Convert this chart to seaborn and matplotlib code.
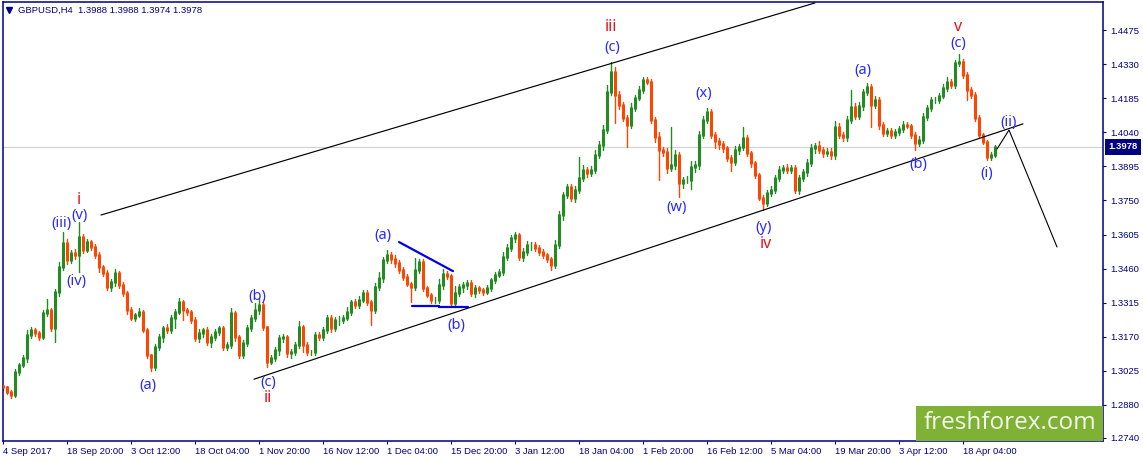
import numpy as np
import pandas as pd
import matplotlib
matplotlib.use("Agg")
import matplotlib.pyplot as plt
import seaborn as sns
from matplotlib.patches import Rectangle

# H4 closes, one row per date tick
closes = [
    1.2955,1.2934,1.2921,1.3019,1.3049,1.3079,1.3177,1.3198,1.3185,1.3168,1.3271,1.3283,1.3207,1.3360,1.3467,1.3569,
    1.3496,1.3526,1.3518,1.3594,1.3539,1.3573,1.3552,1.3518,1.3467,1.3441,1.3381,1.3403,1.3441,1.3390,1.3356,1.3283,
    1.3249,1.3262,1.3275,1.3198,1.3092,1.3041,1.3126,1.3168,1.3207,1.3198,1.3249,1.3275,1.3317,1.3283,1.3275,1.3241,
    1.3164,1.3185,1.3198,1.3147,1.3168,1.3190,1.3207,1.3126,1.3134,1.3271,1.3168,1.3092,1.3143,1.3207,1.3249,1.3283,
    1.3305,1.3211,1.3062,1.3079,1.3113,1.3164,1.3168,1.3100,1.3104,1.3134,1.3211,1.3134,1.3104,1.3104,1.3177,1.3168,
    1.3198,1.3249,1.3207,1.3241,1.3241,1.3249,1.3275,1.3317,1.3305,1.3326,1.3356,1.3317,1.3283,1.3381,1.3420,1.3496,
    1.3518,1.3501,1.3484,1.3454,1.3424,1.3394,1.3381,1.3454,1.3488,1.3377,1.3347,1.3326,1.3326,1.3390,1.3437,1.3428,
    1.3313,1.3356,1.3381,1.3390,1.3398,1.3356,1.3377,1.3369,1.3360,1.3377,1.3411,1.3433,1.3445,1.3509,1.3548,1.3590,
    1.3603,1.3509,1.3530,1.3560,1.3560,1.3548,1.3530,1.3518,1.3501,1.3475,1.3560,1.3688,1.3773,1.3807,1.3761,1.3795,
    1.3846,1.3880,1.3867,1.3880,1.3944,1.3986,1.4050,1.4212,1.4297,1.4199,1.4157,1.4101,1.4071,1.4144,1.4187,1.4221,
    1.4263,1.4255,1.4093,1.4020,1.3965,1.3956,1.3888,1.3901,1.3944,1.3824,1.3837,1.3837,1.3893,1.3901,1.4029,1.4093,
    1.4127,1.4029,1.4003,1.3991,1.3974,1.3931,1.3914,1.3965,1.3978,1.4016,1.3952,1.3910,1.3859,1.3761,1.3739,1.3782,
    1.3795,1.3846,1.3880,1.3888,1.3880,1.3888,1.3795,1.3846,1.3871,1.3910,1.3974,1.3982,1.3965,1.3952,1.3956,1.3944,
    1.4063,1.4029,1.4020,1.4093,1.4148,1.4110,1.4152,1.4212,1.4233,1.4157,1.4178,1.4071,1.4037,1.4046,1.4029,1.4042,
    1.4054,1.4071,1.4067,1.4029,1.3995,1.4008,1.4106,1.4144,1.4178,1.4178,1.4195,1.4229,1.4255,1.4242,1.4336,1.4340,
    1.4284,1.4221,1.4199,1.4101,1.4029,1.3999,1.3935,1.3944,1.3978,
]
first_open = 1.2958

# wick lengths above and below each body, in pips
upper_wick = [
    8,6,10,12,10,14,20,12,10,8,14,47,10,14,20,45,
    18,14,16,64,12,14,10,12,14,10,14,14,16,10,12,10,
    14,10,16,8,10,6,12,14,10,18,14,12,18,10,10,10,
    12,16,10,14,12,14,10,8,12,20,10,10,14,14,12,30,
    30,12,6,14,12,14,14,8,12,12,24,10,14,10,12,12,
    14,14,14,12,18,12,20,10,14,16,12,14,10,18,24,14,
    22,12,16,12,14,12,10,50,14,12,10,10,12,24,20,14,
    10,30,14,12,14,12,14,10,10,14,10,14,12,20,16,14,
    12,10,18,16,14,12,14,12,10,8,20,16,14,12,14,16,
    90,22,14,18,20,16,20,30,43,20,16,14,12,20,14,18,
    14,12,14,12,20,14,18,160,20,12,14,16,24,18,16,18,
    18,12,14,14,12,10,14,16,14,47,14,10,8,8,14,14,
    16,14,18,14,16,12,14,12,14,18,16,14,20,14,16,16,
    26,18,12,16,72,18,16,14,18,14,18,12,12,14,12,14,
    14,16,12,10,12,16,16,14,14,12,14,16,20,14,14,34,
    14,12,14,12,14,10,8,12,10,
]
lower_wick = [
    12,10,14,8,10,8,16,14,10,10,8,14,12,60,18,14,
    16,14,16,72,14,10,12,12,20,14,14,16,18,12,14,18,
    10,14,10,10,12,16,14,12,20,12,14,40,10,40,14,12,
    12,16,18,14,20,12,14,14,12,14,16,14,12,12,14,14,
    18,14,22,10,14,22,16,18,20,14,14,30,12,14,14,14,
    12,14,16,12,20,14,10,14,14,14,10,14,62,12,14,16,
    14,16,18,14,12,10,62,14,14,12,10,12,14,12,18,14,
    14,18,14,20,18,12,16,12,14,10,12,12,10,14,12,14,
    16,12,18,14,20,14,12,14,12,22,12,14,20,14,14,18,
    12,14,18,12,14,12,20,12,14,120,16,14,94,14,12,10,
    14,10,12,20,128,18,20,14,18,60,20,14,40,20,18,14,
    12,14,30,20,16,12,40,14,16,12,14,18,14,10,30,14,
    14,14,14,12,14,12,14,16,14,18,14,20,14,18,14,16,
    18,14,16,18,12,14,14,16,14,94,14,16,14,12,14,14,
    12,14,10,14,30,14,12,14,12,12,14,10,14,14,12,12,
    14,43,12,14,14,10,12,14,8,
]

date_labels = ["4 Sep 2017", "18 Sep 20:00", "3 Oct 12:00", "18 Oct 04:00", "1 Nov 20:00", "16 Nov 12:00",
               "1 Dec 04:00", "15 Dec 20:00", "3 Jan 12:00", "18 Jan 04:00", "1 Feb 20:00", "16 Feb 12:00",
               "5 Mar 04:00", "19 Mar 20:00", "3 Apr 12:00", "18 Apr 04:00"]
price_ticks = [1.4475, 1.4330, 1.4185, 1.4040, 1.3895, 1.3750, 1.3605, 1.3460, 1.3315, 1.3170, 1.3025, 1.2880, 1.2740]
last_price = 1.3978

# trend lines drawn on the chart: bars and prices
channel_top_bars = [24.5, 203]
channel_top_prices = [1.3688, 1.4591]
channel_low_bars = [62.75, 255]
channel_low_prices = [1.2989, 1.4076]
forecast_bars = [248.5, 251.5, 263.5]
forecast_prices = [1.3969, 1.4050, 1.3552]
wedge_top_bars = [99, 112.5]
wedge_top_prices = [1.3573, 1.3449]
wedge_low_bars = [102.25, 109, 109, 116.25]
wedge_low_prices = [1.3300, 1.3300, 1.3296, 1.3296]

# wave labels
wave_texts = ["i", "(v)", "(iii)", "(iv)", "(a)", "(b)", "(c)", "ii", "(a)", "(b)", "(w)", "iii", "(c)",
              "(x)", "(y)", "iv", "(a)", "v", "(c)", "(b)", "(i)", "(ii)"]
wave_bars = [19, 19.1, 14.5, 18.25, 36.25, 63.5, 66.25, 66.25, 95, 113.25, 168.5, 152, 152.25,
             175.25, 190.25, 190.75, 215, 238.75, 238.75, 228.75, 246, 251.5]
wave_prices = [1.3752, 1.3684, 1.3650, 1.3407, 1.2964, 1.3343, 1.2977, 1.2909, 1.3599, 1.3219, 1.3718, 1.4489, 1.4400,
               1.4204, 1.3637, 1.3565, 1.4302, 1.4489, 1.4417, 1.3901, 1.3863, 1.4080]
red_waves = {"i", "ii", "iii", "iv", "v"}

NAVY = "#000080"
UP = "#228b22"
DOWN = "#ff4500"

sns.set_theme(style="white")
plt.rcParams["font.family"] = ["Liberation Sans", "DejaVu Sans"]

# long table for seaborn, each bar is its own unit
opens = [first_open] + closes[:-1]
wick_rows = []
body_rows = []
for i, (o, c, up, lo) in enumerate(zip(opens, closes, upper_wick, lower_wick)):
    side = "up" if c >= o else "down"
    wick_rows.append((i, max(o, c) + up / 10000, side))
    wick_rows.append((i, min(o, c) - lo / 10000, side))
    body_rows.append((i, o, side))
    body_rows.append((i, c, side))
wicks = pd.DataFrame(wick_rows, columns=["bar", "price", "side"])
bodies = pd.DataFrame(body_rows, columns=["bar", "price", "side"])
palette = {"up": UP, "down": DOWN}

fig = plt.figure(figsize=(11.43, 4.61), dpi=100)
ax = fig.add_axes([2.5 / 1143, 1 - 440.5 / 461, 1100.5 / 1143, 438.5 / 461])

ax.axhline(last_price, color="#d4d4d4", lw=0.9, zorder=1)

sns.lineplot(data=wicks, x="bar", y="price", hue="side", units="bar", estimator=None,
             palette=palette, lw=1.0, legend=False, ax=ax, zorder=2)
sns.lineplot(data=bodies, x="bar", y="price", hue="side", units="bar", estimator=None,
             palette=palette, lw=2.2, legend=False, ax=ax, zorder=3)

ax.plot(channel_top_bars, channel_top_prices, color="black", lw=0.85, zorder=4)
ax.plot(channel_low_bars, channel_low_prices, color="black", lw=0.85, zorder=4)
ax.plot(forecast_bars, forecast_prices, color="black", lw=0.8, zorder=4)
ax.plot(wedge_top_bars, wedge_top_prices, color="#0000e6", lw=1.6, zorder=4)
ax.plot(wedge_low_bars, wedge_low_prices, color="#0000e6", lw=1.6, zorder=4)

for txt, b, p in zip(wave_texts, wave_bars, wave_prices):
    red = txt in red_waves
    ax.text(b, p, txt, color="#e8141c" if red else "#2a2aff", fontsize=11.5 if red else 10.5,
            family="Noto Sans", ha="center", va="center", zorder=5)

ax.set_xlim(-0.125, 275)
ax.set_ylim(1.2728, 1.4595)

ax.yaxis.tick_right()
ax.set_yticks(price_ticks)
ax.set_yticklabels([f"{p:.4f}" for p in price_ticks])
ax.set_xticks(np.arange(len(date_labels)) * 16)
ax.set_xticklabels(date_labels, ha="left")
ax.tick_params(axis="both", length=2.5, width=0.8, color=NAVY, labelcolor=NAVY, labelsize=6.8,
               bottom=True, right=True, left=False)
ax.tick_params(axis="x", pad=2.5)
ax.tick_params(axis="y", pad=2.5)
ax.set_xlabel("")
ax.set_ylabel("")
for spine in ax.spines.values():
    spine.set_color(NAVY)
    spine.set_linewidth(1.1)
    spine.set_visible(True)

# header
ax.plot([6.5 / 1100.5], [1 - 8 / 438.5], marker="v", ms=5, color=NAVY, transform=ax.transAxes, clip_on=False)
ax.text(15.5 / 1100.5, 1 - 8.5 / 438.5, "GBPUSD,H4  1.3988 1.3988 1.3974 1.3978", color=NAVY, fontsize=6.8,
        ha="left", va="center", transform=ax.transAxes)

# last price tag
ax.annotate(f"{last_price:.4f}", xy=(1.0, last_price), xycoords=("axes fraction", "data"), xytext=(4, 0),
            textcoords="offset points", color="white", fontsize=6.8, fontweight="bold", va="center", ha="left",
            annotation_clip=False, bbox=dict(boxstyle="square,pad=0.35", fc=NAVY, ec=NAVY, lw=0), zorder=6)

# logo
ax.add_patch(Rectangle((1 - 187 / 1100.5, 0), 187 / 1100.5, 35 / 438.5, transform=ax.transAxes,
                       fc="#7fb135", ec="none", zorder=6))
ax.text(1 - 93.5 / 1100.5, 18 / 438.5, "freshforex.com", color="#f4f8ec", fontsize=17.5, family="Open Sans",
        ha="center", va="center", transform=ax.transAxes, zorder=7)

fig.savefig("out.png", dpi=100, facecolor="white")
